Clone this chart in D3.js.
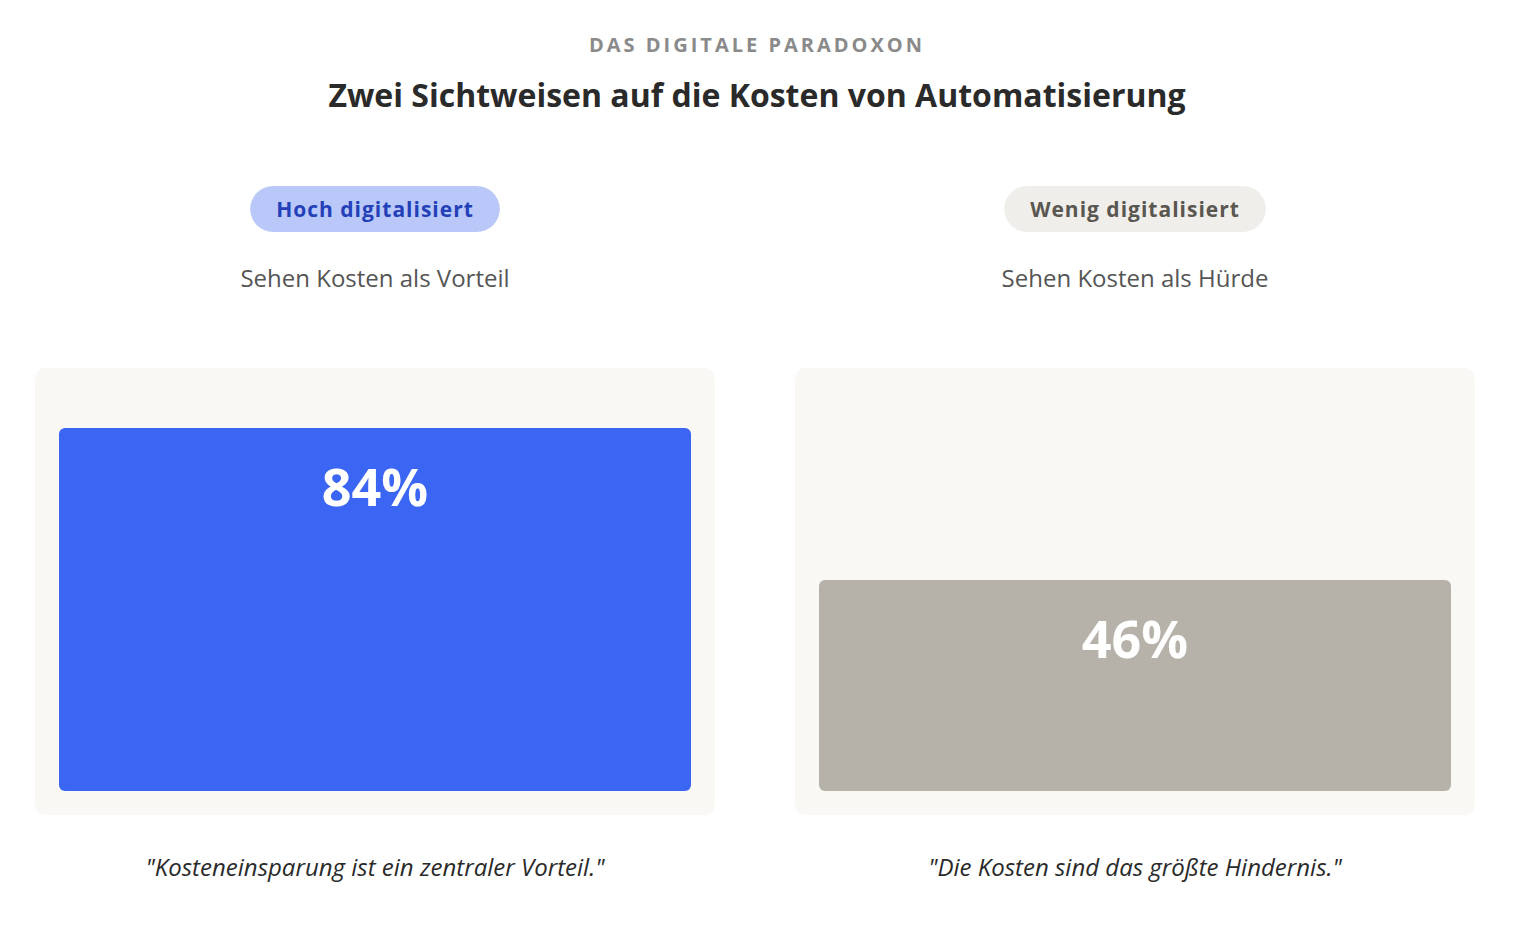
<!DOCTYPE html>
<html><head><meta charset="utf-8">
<script src="https://cdn.jsdelivr.net/npm/d3@7"></script>
<style>body{margin:0;background:#fff;font-family:"Open Sans","Noto Sans",sans-serif}</style>
</head><body>
<svg id="c" width="1514" height="932"></svg>
<script>
const groups = ["Hoch digitalisiert", "Wenig digitalisiert"];
const subtitles = ["Sehen Kosten als Vorteil", "Sehen Kosten als Hürde"];
const values = [84, 46];
const quotes = ["\"Kosteneinsparung ist ein zentraler Vorteil.\"", "\"Die Kosten sind das größte Hindernis.\""];
const pillFill = ["#b9c8f8", "#efeeea"], pillText = ["#2340b8", "#5a5650"], barFill = ["#3b65f3", "#b6b2aa"];

const svg = d3.select("#c");
svg.append("text").attr("x",757).attr("y",52).attr("text-anchor","middle").attr("font-size",20).attr("font-weight",700)
  .attr("letter-spacing",3).attr("fill","#8a8a8a").text("DAS DIGITALE PARADOXON");
svg.append("text").attr("x",757).attr("y",107).attr("text-anchor","middle").attr("font-size",32).attr("font-weight",700)
  .attr("fill","#2a2a2a").text("Zwei Sichtweisen auf die Kosten von Automatisierung");

const x = d3.scaleBand().domain(groups).range([35,1475]).paddingInner(80/760);
const h = d3.scaleLinear().domain([0,100]).range([27,427]);
const base = 791;

groups.forEach((g,i)=>{
  const x0 = x(g), w = x.bandwidth(), cx = x0 + w/2;
  const gg = svg.append("g");
  const t = gg.append("text").attr("x",cx).attr("y",217).attr("text-anchor","middle").attr("font-size",21).attr("font-weight",700)
    .attr("letter-spacing",1).attr("fill",pillText[i]).text(g);
  const tw = t.node().getComputedTextLength();
  gg.insert("rect","text").attr("x",cx-tw/2-26).attr("y",186).attr("width",tw+52).attr("height",46).attr("rx",23).attr("fill",pillFill[i]);
  gg.append("text").attr("x",cx).attr("y",287).attr("text-anchor","middle").attr("font-size",24).attr("fill","#555").text(subtitles[i]);
  gg.append("rect").attr("x",x0).attr("y",368).attr("width",w).attr("height",447).attr("rx",10).attr("fill","#f9f8f5");
  const bh = h(values[i]);
  gg.append("rect").attr("x",x0+24).attr("y",base-bh).attr("width",w-48).attr("height",bh).attr("rx",6).attr("fill",barFill[i]);
  gg.append("text").attr("x",cx).attr("y",base-bh+78).attr("text-anchor","middle").attr("font-size",52).attr("font-weight",700)
    .attr("fill","#fff").text(values[i]+"%");
  gg.append("text").attr("x",cx).attr("y",876).attr("text-anchor","middle").attr("font-size",24).attr("font-style","italic")
    .attr("fill","#2a2a2a").text(quotes[i]);
});
</script></body></html>
